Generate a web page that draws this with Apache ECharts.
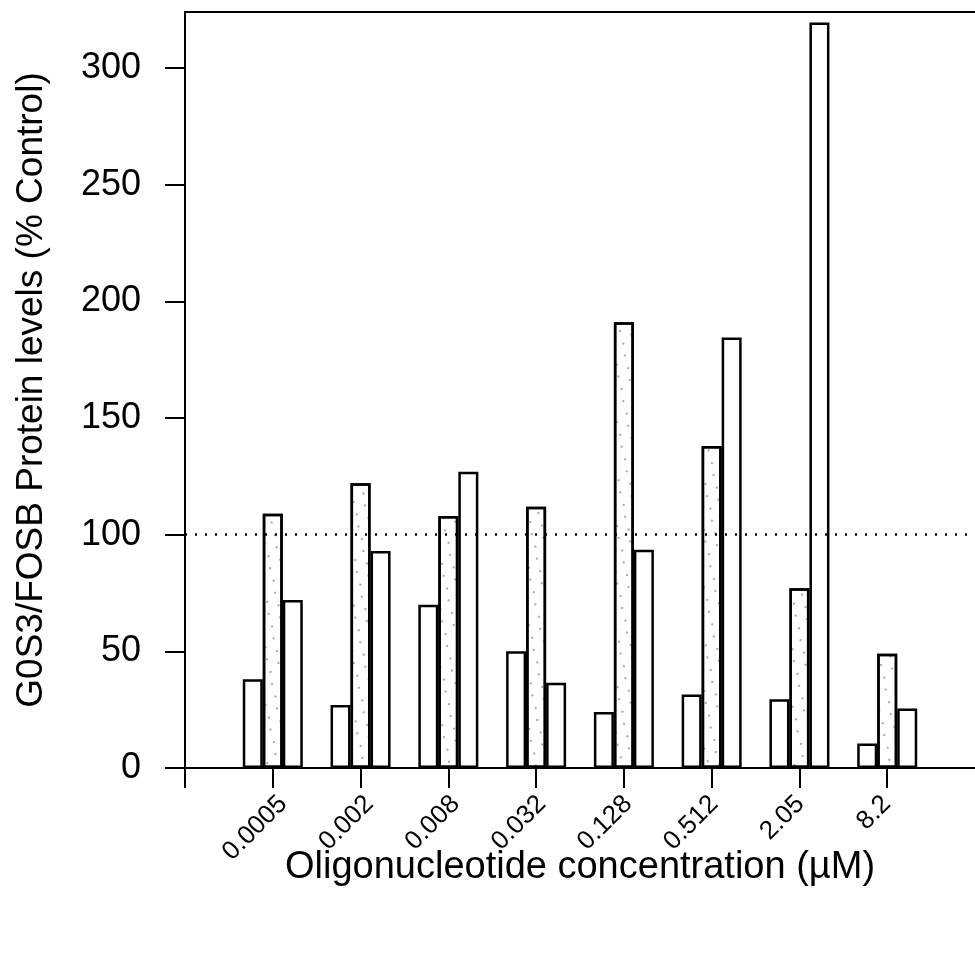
<!DOCTYPE html>
<html>
<head>
<meta charset="utf-8">
<script src="https://cdn.jsdelivr.net/npm/echarts@6/dist/echarts.min.js"></script>
<style>
html,body{margin:0;padding:0;background:#fff;}
#chart{width:975px;height:966px;}
</style>
</head>
<body>
<div id="chart"></div>
<script>
// Categories (empty first/last slots form the axis ends)
const categories = ['', '0.0005', '0.002', '0.008', '0.032', '0.128', '0.512', '2.05', '8.2', ''];
// Three bars per concentration
const seriesA = [null, 38, 27, 70, 50, 24, 31.5, 29.5, 10.5, null];
const seriesB = [null, 109, 122, 108, 112, 191, 138, 77, 49, null];
const seriesC = [null, 72, 93, 127, 36.5, 93.5, 184.5, 319.5, 25.5, null];
// Y axis scale
const yMin = 0;
const yMax = 324;
const yInterval = 50;
const controlLevel = 100;

const FONT = '"Liberation Sans", Arial, Helvetica, sans-serif';

const chart = echarts.init(document.getElementById('chart'), null, {renderer: 'canvas'});

const barStyle = {color: '#ffffff', borderColor: '#000000', borderWidth: 2.5};
const lastIdx = categories.length - 1;

const option = {
  backgroundColor: '#ffffff',
  animation: false,
  grid: [
    {left: 185, right: 0, top: 12, bottom: 198, containLabel: false},
    // label-only grid, shifted right so rotated labels sit as in the original
    {left: 197, right: -12, top: 12, bottom: 198, containLabel: false}
  ],
  xAxis: [{
    type: 'category',
    gridIndex: 0,
    data: categories,
    boundaryGap: false,
    axisLine: {show: true, lineStyle: {color: '#000', width: 2}},
    axisTick: {show: true, length: 20, lineStyle: {color: '#000', width: 2},
      interval: function (idx) { return idx !== lastIdx; }},
    axisLabel: {show: false},
    splitLine: {show: false},
    name: 'Oligonucleotide concentration (µM)',
    nameLocation: 'middle',
    nameGap: 81,
    nameTextStyle: {color: '#000', fontFamily: FONT, fontSize: 38, verticalAlign: 'top'}
  }, {
    type: 'category',
    gridIndex: 0,
    data: categories,
    position: 'top',
    boundaryGap: false,
    axisLine: {show: true, lineStyle: {color: '#000', width: 2}},
    axisTick: {show: false},
    axisLabel: {show: false},
    splitLine: {show: false}
  }, {
    type: 'category',
    gridIndex: 1,
    data: categories,
    boundaryGap: false,
    axisLine: {show: false},
    axisTick: {show: false},
    axisLabel: {show: true, rotate: 45, margin: 32, interval: 0,
      color: '#000', fontFamily: FONT, fontSize: 26},
    splitLine: {show: false}
  }],
  yAxis: [{
    type: 'value',
    gridIndex: 0,
    min: yMin,
    max: yMax,
    interval: yInterval,
    axisLine: {show: true, lineStyle: {color: '#000', width: 2}},
    axisTick: {show: true, length: 20, lineStyle: {color: '#000', width: 2}},
    axisLabel: {color: '#000', fontFamily: FONT, fontSize: 36, margin: 44,
      showMaxLabel: false},
    splitLine: {show: false},
    name: 'G0S3/FOSB Protein levels (% Control)',
    nameLocation: 'middle',
    nameGap: 135,
    nameTextStyle: {color: '#000', fontFamily: FONT, fontSize: 37}
  }, {
    type: 'value',
    gridIndex: 1,
    min: yMin,
    max: yMax,
    show: false
  }],
  series: [
    {
      type: 'bar', data: seriesA, barWidth: 20, barGap: '0%',
      xAxisIndex: 0, yAxisIndex: 0,
      itemStyle: barStyle,
      markLine: {
        silent: true, symbol: ['none', 'none'], label: {show: false},
        lineStyle: {color: '#000', type: [2, 8], width: 2.5},
        data: [{yAxis: controlLevel}]
      }
    },
    {
      type: 'bar', data: seriesB, barWidth: 20, barGap: '0%',
      xAxisIndex: 0, yAxisIndex: 0,
      itemStyle: Object.assign({}, barStyle, {
        decal: {
          symbol: 'circle', symbolSize: 1, color: 'rgba(0,0,0,0.45)',
          dashArrayX: [[1.5, 9.5], [0, 5, 1.5, 4.5]], dashArrayY: [1.5, 8.5], rotation: 0.3
        }
      })
    },
    {
      type: 'bar', data: seriesC, barWidth: 20, barGap: '0%',
      xAxisIndex: 0, yAxisIndex: 0,
      itemStyle: barStyle
    }
  ]
};

chart.setOption(option);
</script>
</body>
</html>
